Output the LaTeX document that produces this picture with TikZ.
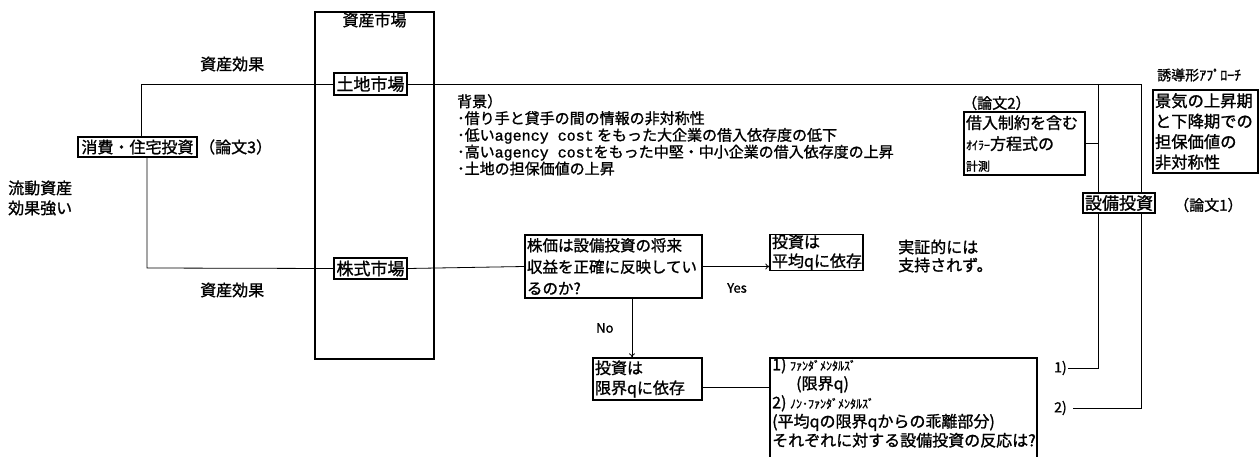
\documentclass[tikz,border=0pt]{standalone}
\usepackage{fontspec}
\setmainfont{Noto Sans CJK JP}[FakeBold=1.2]
\newfontfamily\mono{Liberation Mono}[FakeBold=1.2]
\usetikzlibrary{arrows.meta}
\tikzset{
  every node/.style={font=\fontsize{16}{20.5}\selectfont},
  box/.style={draw, line width=1.3pt, fill=white, inner sep=0pt},
  conn/.style={line width=0.8pt},
  arr/.style={line width=0.8pt, -{To[length=4pt,width=6pt]}},
  lbl/.style={inner sep=0pt, anchor=west},
}
\newcommand{\hk}[1]{{\fontsize{12}{19}\selectfont #1}}
\begin{document}
\begin{tikzpicture}[x=1pt,y=-1pt]
\useasboundingbox (0,0) rectangle (1260,457);
% asset market box
\node[draw, line width=1.3pt, minimum width=119pt, minimum height=347pt, inner sep=0pt] (asset) at (374.5,185.5) {};
\node[below, inner sep=1pt, font=\fontsize{16}{20}\selectfont] (assettitle) at (asset.north) {資産市場};
% boxes
\node[box, minimum width=73pt, minimum height=22pt, font=\fontsize{17}{20}\selectfont] (land) at (370.5,84) {土地市場};
\node[box, minimum width=73pt, minimum height=21pt, font=\fontsize{17}{20}\selectfont] (stock) at (370.5,268.5) {株式市場};
\node[box, minimum width=119pt, minimum height=20pt] (cons) at (137.5,147) {消費・住宅投資};
\node[box, minimum width=72pt, minimum height=20pt, font=\fontsize{17}{20}\selectfont] (capex) at (1119,203) {設備投資};
\node[box, minimum width=121pt, minimum height=63pt, text width=117pt, align=left, font=\fontsize{16}{21}\selectfont] (r2) at (1024.5,143.5)
  {借入制約を含む\\{\fontsize{12}{21}\selectfont ｵｲﾗｰ}方程式の\\{\fontsize{12}{21}\selectfont 計測}};
\node[box, minimum width=105pt, minimum height=83pt, text width=101pt, align=left, font=\fontsize{16.3}{20.5}\selectfont] (ind) at (1205.5,131.5)
  {景気の上昇期\\と下降期での\\担保価値の\\非対称性};
\node[box, minimum width=177pt, minimum height=63pt, text width=173pt, align=left, font=\fontsize{15.5}{21.5}\selectfont] (kabuka) at (613.5,266.5)
  {株価は設備投資の将来\\収益を正確に反映してい\\るのか?};
\node[box, minimum width=93pt, minimum height=35pt, text width=89pt, align=left, font=\fontsize{16}{19}\selectfont] (avgq) at (816.5,252.5)
  {投資は\\平均qに依存};
\node[box, minimum width=109pt, minimum height=42pt, text width=105pt, align=left, font=\fontsize{16}{20}\selectfont] (margq) at (647.5,379)
  {投資は\\限界qに依存};
% fundamentals box (open at bottom, cut by page)
\coordinate (fTL) at (770,358);
\coordinate (fTR) at (1037,358);
\coordinate (fBL) at (770,457);
\coordinate (fBR) at (1037,457);
\draw[line width=1.3pt] (fBL) -- (fTL) -- (fTR) -- (fBR);
\node[anchor=north west, align=left, inner sep=0pt, font=\fontsize{16}{19}\selectfont] (fund) at (772,357)
  {1) \hk{ﾌｧﾝﾀﾞﾒﾝﾀﾙｽﾞ}\\
   \hspace*{24pt}(限界q)\\
   2) \hk{ﾉﾝ･ﾌｧﾝﾀﾞﾒﾝﾀﾙｽﾞ}\\
   (平均qの限界qからの乖離部分)\\
   それぞれに対する設備投資の反応は?};
% labels
\node[lbl] (ae1) at (200,64) {資産効果};
\node[lbl] (ae2) at (200,290) {資産効果};
\node[lbl, align=left, font=\fontsize{16}{20}\selectfont] (ryudo) at (8,198) {流動資産\\効果強い};
\node[lbl] (p3) at (199,147) {（論文3）};
\node[lbl, font=\fontsize{15}{18}\selectfont] (p2) at (962,103) {（論文2）};
\node[lbl, font=\fontsize{15}{18}\selectfont] (p1) at (1174,205) {（論文1）};
\node[lbl, font=\fontsize{14}{18}\selectfont] (induc) at (1157,75) {誘導形{\fontsize{14}{18}\selectfont ｱﾌﾟﾛｰﾁ}};
\node[anchor=north west, align=left, inner sep=0pt, font=\fontsize{15}{16.8}\selectfont] (bg) at (457,94)
  {背景）\\
   ･借り手と貸手の間の情報の非対称性\\
   ･低い{\mono agency cost} をもった大企業の借入依存度の低下\\
   ･高い{\mono agency cost}をもった中堅・中小企業の借入依存度の上昇\\
   ･土地の担保価値の上昇};
\node[lbl, font=\fontsize{13}{16}\selectfont] (yes) at (727,288) {Yes};
\node[lbl, font=\fontsize{13}{16}\selectfont] (no) at (596,328) {No};
\node[lbl, align=left, font=\fontsize{16}{18}\selectfont] (jissho) at (898,256) {実証的には\\支持されず。};
\node[lbl, font=\fontsize{14}{16}\selectfont] (one) at (1054,368) {1)};
\node[lbl, font=\fontsize{14}{16}\selectfont] (two) at (1054,408) {2)};
% connectors
\coordinate (tl) at (1098,84);
\coordinate (tr) at (1141,84);
\coordinate (consx) at (141,84);
\coordinate (consy) at (147,268);
\draw[conn] (land.west) -- (consx) -- (consx |- cons.north);
\draw[conn] (consy |- cons.south) -- (consy) -- (stock.west);
\draw[conn] (land.east) -- (tr) -- (tr |- capex.north);
\draw[conn] (tl) -- (tl |- capex.north);
\draw[conn] (r2.east) -- (r2.east -| tl);
\draw[conn] (tl |- capex.south) |- ([xshift=1pt]one.east);
\draw[conn] (tr |- capex.south) |- ([xshift=6pt]two.east);
\draw[conn] (stock.east) -- (kabuka.west);
\draw[arr] (kabuka.east) -- (kabuka.east -| avgq.west);
\coordinate (nox) at (632,300);
\draw[arr] (nox |- kabuka.south) -- (nox |- margq.north);
\coordinate (fundL) at (770,387);
\draw[conn] (margq.east |- fundL) -- (fundL);
\end{tikzpicture}
\end{document}
